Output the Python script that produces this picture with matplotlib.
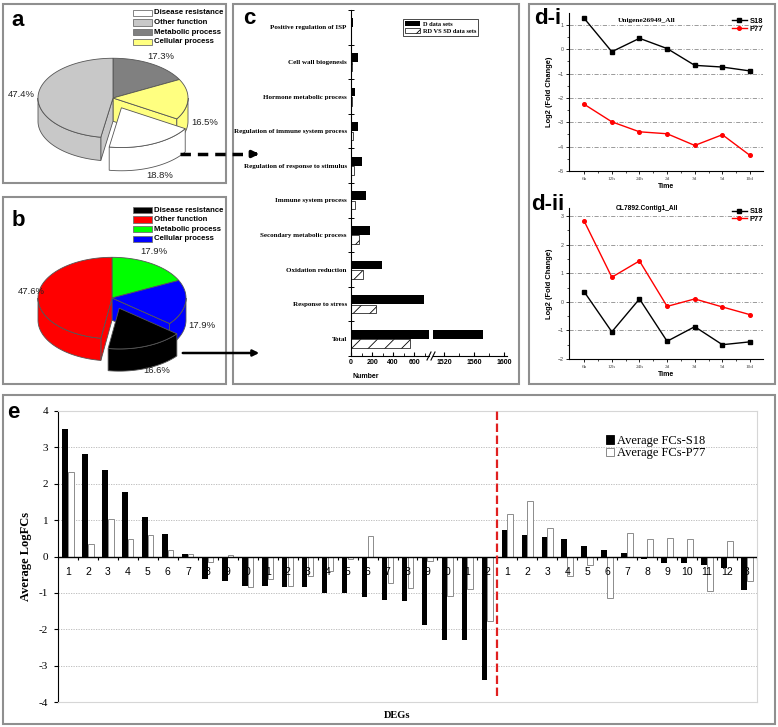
import numpy as np
import matplotlib
matplotlib.use('Agg')
import matplotlib.pyplot as plt
from matplotlib.patches import Polygon, Rectangle, Patch

W, H = 778, 727

# ---------------- data ----------------
# a / b : functional share of DEGs (%)
pie_labels = ['Disease resistance', 'Other function', 'Metabolic process', 'Cellular process']
pie_a = [18.8, 47.4, 17.3, 16.5]
pie_b = [16.6, 47.6, 17.9, 17.9]
colors_a = ['#ffffff', '#c8c8c8', '#808080', '#ffff80']
colors_b = ['#000000', '#ff0000', '#00ff00', '#0000ff']
pie_order = [2, 3, 0, 1]          # clockwise from 12 o'clock

# c : GO terms
go_terms = ['Positive regulation of ISP', 'Cell wall biogenesis', 'Hormone metabolic process',
            'Regulation of immune system process', 'Regulation of response to stimulus',
            'Immune system process', 'Secondary metabolic process', 'Oxidation reduction',
            'Response to stress', 'Total']
d_sets = [16, 62, 42, 62, 105, 143, 181, 295, 690, 1572]
rd_sd_sets = [2, 8, 6, 15, 28, 38, 76, 114, 236, 560]

# d : qRT-PCR time course
time_pts = ['6h', '12h', '24h', '2d', '3d', '5d', '10d']
uni_s18 = [1.27, -0.10, 0.45, 0.03, -0.66, -0.73, -0.89]
uni_p77 = [-2.26, -2.98, -3.39, -3.47, -3.95, -3.51, -4.36]
cl_s18 = [0.35, -1.05, 0.10, -1.38, -0.87, -1.50, -1.40]
cl_p77 = [2.82, 0.86, 1.43, -0.16, 0.10, -0.18, -0.45]

# e : average log fold changes
deg_ticks_left = ['1', '2', '3', '4', '5', '6', '7', '8', '9', '0', '1',
                  '2', '3', '4', '5', '6', '7', '8', '9', '0', '1', '2']
deg_ticks_right = ['1', '2', '3', '4', '5', '6', '7', '8', '9', '10', '11', '12', '3']
fc_s18 = [3.50, 2.82, 2.37, 1.77, 1.09, 0.63, 0.06, -0.62, -0.66, -0.81, -0.81,
          -0.84, -0.85, -0.99, -1.00, -1.11, -1.20, -1.21, -1.89, -2.29, -2.29, -3.40,
          0.74, 0.59, 0.53, 0.49, 0.28, 0.19, 0.10, -0.06, -0.17, -0.19, -0.24, -0.31, -0.93]
fc_p77 = [2.31, 0.35, 1.02, 0.48, 0.60, 0.19, 0.07, -0.14, 0.03, -0.85, -0.62,
          -0.80, -0.53, -0.39, -0.07, 0.57, -0.73, -0.87, -0.11, -1.09, -0.88, -1.78,
          1.16, 1.53, 0.79, -0.53, -0.24, -1.14, 0.64, 0.48, 0.52, 0.49, -0.96, 0.43, -0.67]

plt.rcParams['font.family'] = ['Liberation Sans', 'DejaVu Sans']
plt.rcParams['hatch.linewidth'] = 0.6
SERIF = ['Liberation Serif', 'DejaVu Serif']

fig = plt.figure(figsize=(W / 100, H / 100), dpi=100)


def px_rect(x0, y0, x1, y1):
    return [x0 / W, 1 - y1 / H, (x1 - x0) / W, (y1 - y0) / H]


# ---------------- a / b : 3d pies ----------------
def pie3d(cx, cy, r, box, sizes, colors, k, depth, expl=0.27, ec='#555555', nudges=None):
    x0, y0, x1, y1 = box
    ax = fig.add_axes(px_rect(x0, y0, x1, y1))
    ax.set_xlim((x0 - cx) / r, (x1 - cx) / r)
    ax.set_ylim((cy - y1) / r, (cy - y0) / r)
    ax.axis('off')
    vals = np.array(sizes, float)[pie_order]
    bounds = 90 - 360 * np.concatenate([[0], np.cumsum(vals)]) / vals.sum()
    n = len(vals)
    ex = [pie_order[j] == 0 for j in range(n)]   # disease resistance is pulled out
    wedges = []
    for j in range(n):
        t2, t1 = bounds[j], bounds[j + 1]
        m = np.radians((t1 + t2) / 2)
        e = expl if ex[j] else 0
        wedges.append(dict(t1=t1, t2=t2, m=m, off=(e * np.cos(m), e * k * np.sin(m)),
                           c=colors[pie_order[j]], ex=ex[j],
                           gap1=ex[(j + 1) % n], gap2=ex[j - 1]))

    def rim(w, ts):
        ts = np.radians(ts)
        return np.column_stack([w['off'][0] + np.cos(ts), w['off'][1] + k * np.sin(ts)])

    def sides(w):
        ox, oy = w['off']
        for t, sgn, gap in ((w['t1'], 1, w['gap1']), (w['t2'], -1, w['gap2'])):
            if (w['ex'] or gap) and sgn * np.cos(np.radians(t)) > 1e-6:
                p = rim(w, [t])[0]
                ax.add_patch(Polygon([(ox, oy), p, (p[0], p[1] - depth), (ox, oy - depth)],
                                     fc=w['c'], ec=ec, lw=0.6))
        for lo, hi in ((-180, 0), (-540, -360)):
            a, b = max(w['t1'], lo), min(w['t2'], hi)
            if b > a:
                top = rim(w, np.linspace(a, b, 60))
                bot = top[::-1] - [0, depth]
                ax.add_patch(Polygon(np.vstack([top, bot]), fc=w['c'], ec=ec, lw=0.6))

    def top(w):
        pts = np.vstack([[w['off']], rim(w, np.linspace(w['t1'], w['t2'], 120))])
        ax.add_patch(Polygon(pts, fc=w['c'], ec=ec, lw=0.6))

    for grp in (False, True):
        for w in wedges:
            if w['ex'] == grp:
                sides(w)
        for w in wedges:
            if w['ex'] == grp:
                top(w)
    for j, w in enumerate(wedges):
        m = w['m']
        lx = w['off'][0] + 1.22 * np.cos(m)
        ly = w['off'][1] + 1.22 * k * np.sin(m) - (depth if np.sin(m) < 0 else 0)
        if nudges:
            lx += nudges[j][0] / r
            ly -= nudges[j][1] / r
        ax.text(lx, ly, f'{vals[j]:.1f}%', ha='center', va='center', fontsize=6.8, color='#222222')
    return ax


def pie_legend(ov, colors, y0):
    for i, (lab, c) in enumerate(zip(pie_labels, colors)):
        y = y0 + i * 9.6
        ov.add_patch(Rectangle((133, y - 3.3), 19, 6.6, fc=c, ec='#707070', lw=0.6))
        ov.text(154, y, lab, fontsize=5.6, fontweight='bold', va='center', ha='left')


pie3d(113, 98, 75, (6, 46, 224, 181), pie_a, colors_a, k=0.53, depth=0.31)
pie3d(112, 298, 74, (6, 240, 224, 383), pie_b, colors_b, k=0.55, depth=0.30,
      nudges=[(-6, -4), (0, 0), (5, -6), (9, -3)])

# ---------------- c : GO term bars with broken axis ----------------
ax_c1 = fig.add_axes(px_rect(351, 10, 429, 356))
ax_c2 = fig.add_axes(px_rect(433, 10, 507, 356))
yc = np.arange(len(go_terms))[::-1]
for ax in (ax_c1, ax_c2):
    ax.barh(yc + 0.13, d_sets, 0.25, color='black', label='D data sets')
    ax.barh(yc - 0.14, rd_sd_sets, 0.25, color='white', edgecolor='black', hatch='//',
            lw=0.5, label='RD VS SD data sets')
    ax.set_ylim(-0.5, len(go_terms) - 0.5)
    ax.patch.set_alpha(0)
    ax.spines['top'].set_visible(False)
    ax.spines['right'].set_visible(False)
    ax.tick_params(axis='x', direction='in', length=3, width=0.8, pad=2, labelsize=5)
    ax.tick_params(axis='x', which='minor', direction='in', length=2, width=0.6)
ax_c1.set_xlim(0, 740)
ax_c1.set_xticks([0, 200, 400, 600])
ax_c1.set_xticks([100, 300, 500, 700], minor=True)
ax_c1.set_xticklabels(['0', '200', '400', '600'], fontweight='bold', fontsize=5)
ax_c1.set_yticks(yc)
ax_c1.set_yticklabels(go_terms, family=SERIF, fontweight='bold', fontsize=5)
ax_c1.tick_params(axis='y', length=0, pad=3)
ax_c1.set_yticks(np.arange(-0.5, len(go_terms)), minor=True)
ax_c1.tick_params(axis='y', which='minor', direction='inout', length=4, width=0.7)
ax_c2.set_xlim(1505, 1604)
ax_c2.set_xticks([1520, 1560, 1600])
ax_c2.set_xticks([1540, 1580], minor=True)
ax_c2.set_xticklabels(['1520', '1560', '1600'], fontweight='bold', fontsize=5)
ax_c2.spines['left'].set_visible(False)
ax_c2.set_yticks([])
leg = ax_c1.legend(loc='upper left', bbox_to_anchor=(400 / W, 1 - 16 / H),
                   bbox_transform=fig.transFigure,
                   prop=dict(family=SERIF, weight='bold', size=4.6), frameon=True,
                   fancybox=False, edgecolor='black', framealpha=1, borderpad=0.3,
                   handlelength=2.4, handleheight=0.9, labelspacing=0.15, handletextpad=0.4)
leg.get_frame().set_linewidth(0.5)


# ---------------- d : time course lines ----------------
def time_panel(box, s18, p77, ylim, title, tfont, leg_anchor):
    ax = fig.add_axes(px_rect(*box))
    xt = np.arange(len(time_pts))
    for y in range(int(np.ceil(ylim[0])) + 1, int(np.floor(ylim[1])) + 1):
        ax.axhline(y, color='#8a8a8a', lw=0.6, ls=(0, (5, 2, 1, 2)), zorder=1)
    ax.plot(xt, s18, color='black', marker='s', ms=2.6, lw=1, label='S18', zorder=3)
    ax.plot(xt, p77, color='red', marker='o', ms=2.6, lw=1, label='P77', zorder=3)
    ax.set_xlim(-0.55, len(time_pts) - 0.53)
    ax.set_ylim(*ylim)
    ax.set_xticks(xt)
    ax.set_xticklabels(time_pts, family=SERIF, fontsize=3.8, color='#444444')
    ax.set_xticks(xt[:-1] + 0.5, minor=True)
    ax.set_yticks(range(int(np.ceil(ylim[0])), int(np.floor(ylim[1])) + 1))
    ax.set_yticks(np.arange(np.ceil(ylim[0]) + 0.5, ylim[1], 1.0), minor=True)
    ax.tick_params(labelsize=3.8, length=2.5, width=0.6, pad=1.5, labelcolor='#444444')
    ax.tick_params(which='minor', length=1.5, width=0.5)
    ax.spines['top'].set_visible(False)
    ax.spines['right'].set_visible(False)
    ax.patch.set_alpha(0)
    ax.set_xlabel('Time', fontsize=5, fontweight='bold', labelpad=2)
    ax.set_ylabel('Log2 (Fold Change)', fontsize=5.4, fontweight='bold', labelpad=3)
    ax.text(0.40, 0.955 if tfont == SERIF else 0.995, title, transform=ax.transAxes,
            ha='center', va='center', fontsize=5.3 if tfont == SERIF else 4.8,
            fontweight='bold', family=tfont)
    ax.legend(loc='upper right', bbox_to_anchor=leg_anchor, frameon=False,
              prop=dict(weight='bold', size=5.4), handlelength=1.9, handletextpad=0.4,
              labelspacing=0.05, borderpad=0, borderaxespad=0)
    return ax


time_panel((569, 13, 763, 171), uni_s18, uni_p77, (-5, 1.49), 'Unigene26949_All', SERIF,
           (1.0, 0.97))
time_panel((569, 208, 763, 359), cl_s18, cl_p77, (-2, 3.28), 'CL7892.Contig1_All',
           ['Liberation Sans', 'DejaVu Sans'], (1.0, 1.0))

# ---------------- e : average log FCs ----------------
ax_e = fig.add_axes(px_rect(58, 411, 757, 702))
xe = np.arange(1, len(fc_s18) + 1)
n_left = len(deg_ticks_left)
ax_e.bar(xe - 0.15, fc_s18, 0.28, color='black', zorder=3)
ax_e.bar(xe + 0.14, fc_p77, 0.28, color='white', edgecolor='#8c8c8c', lw=0.7, zorder=3)
ax_e.set_xlim(0.5, len(xe) + 0.5)
ax_e.set_ylim(-4, 4)
ax_e.set_yticks(range(-4, 5))
ax_e.set_yticklabels([str(v) for v in range(-4, 5)], family=SERIF, fontsize=8)
ax_e.tick_params(axis='y', length=3, width=0.8, pad=4)
ax_e.set_xticks([])
for s in ('top', 'right', 'bottom'):
    ax_e.spines[s].set_color('#d6d6d6')
for y in range(-3, 4):
    if y:
        ax_e.axhline(y, color='#b5b5b5', lw=0.6, ls=(0, (1.5, 1.5)), zorder=1)
ax_e.axhline(0, color='black', lw=1, zorder=4)
ax_e.vlines(np.arange(0.5, len(xe) + 0.6), -0.09, 0, color='black', lw=0.8, zorder=4)
for x, lab in zip(xe, deg_ticks_left + deg_ticks_right):
    ax_e.text(x, -0.42, lab, ha='center', va='center', fontsize=7.5, zorder=5)
ax_e.axvline(n_left + 0.5, ymin=0.02, ymax=1.0, color='#e02020', lw=1.6,
             ls=(0, (3.8, 1.6)), zorder=6)
ax_e.set_ylabel('Average LogFCs', family=SERIF, fontweight='bold', fontsize=9, labelpad=5)
ax_e.legend(handles=[Patch(fc='black', ec='black', lw=0.6), Patch(fc='white', ec='#777777', lw=0.6)],
            labels=['Average FCs-S18', 'Average FCs-P77'], loc='upper left',
            bbox_to_anchor=(0.784, 0.918), frameon=False, prop=dict(family=SERIF, size=9),
            handlelength=0.65, handleheight=0.65, handletextpad=0.25, labelspacing=0.05,
            borderpad=0, borderaxespad=0)

# ---------------- overlay: frames, letters, arrows ----------------
ov = fig.add_axes([0, 0, 1, 1], zorder=10)
ov.set_xlim(0, W)
ov.set_ylim(H, 0)
ov.axis('off')
for x0, y0, x1, y1 in [(3, 4, 226, 183), (3, 197, 226, 384), (233, 4, 519, 384),
                       (529, 4, 775, 384), (3, 395, 775, 724)]:
    ov.add_patch(Rectangle((x0, y0), x1 - x0, y1 - y0, fill=False, ec='#8f8f8f', lw=1.5))
pie_legend(ov, colors_a, 13)
pie_legend(ov, colors_b, 210)
for txt, x, y in [('a', 18, 20), ('b', 18, 220), ('c', 249, 19), ('d-i', 548, 19),
                  ('d-ii', 548, 205), ('e', 13, 412)]:
    ov.text(x, y, txt, fontsize=16, fontweight='bold', ha='center', va='center')
ov.text(366, 377, 'Number', fontsize=5, fontweight='bold', ha='center', va='center')
ov.text(397, 715, 'DEGs', family=SERIF, fontsize=7.5, fontweight='bold', ha='center', va='center')
# axis break marks
for bx in (427, 431):
    ov.plot([bx, bx + 4], [360, 352], color='black', lw=0.8)
# arrows from pies to panel c
ov.plot([180, 252], [154, 154], color='black', lw=2.5, ls=(0, (3, 2)))
ov.annotate('', xy=(262, 154), xytext=(250, 154),
            arrowprops=dict(arrowstyle='-|>', color='black', lw=2.5, mutation_scale=9))
ov.annotate('', xy=(262, 353), xytext=(180, 353),
            arrowprops=dict(arrowstyle='-|>', color='black', lw=1.8, mutation_scale=9))

fig.savefig('out.png', dpi=100)
